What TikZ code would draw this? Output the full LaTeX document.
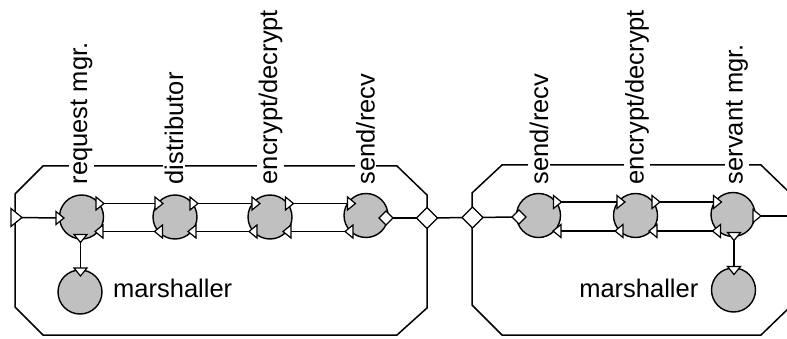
\documentclass[tikz,border=0pt]{standalone}
\usepackage{fontspec}
\setmainfont{Liberation Sans}
\usetikzlibrary{calc}
\definecolor{cgray}{RGB}{192,192,192}
\tikzset{
  wire/.style={line width=1.5pt},
  boxline/.style={line width=1.5pt, line join=miter},
  comp/.style={circle, draw, line width=1.4pt, fill=cgray, minimum size=44pt, inner sep=0pt},
  lbl/.style={rotate=90, anchor=west, fill=white, inner sep=1.5pt, font=\fontsize{25.5}{25.5}\selectfont},
  txt/.style={inner sep=0pt, font=\fontsize{25.5}{25.5}\selectfont},
  portst/.style={draw, fill=white, line width=1.2pt, line join=miter},
  triR/.pic={\draw[portst] (-4,-6.5) -- (4,0) -- (-4,6.5) -- cycle;},
  triL/.pic={\draw[portst] (4,-6.5) -- (-4,0) -- (4,6.5) -- cycle;},
  triD/.pic={\draw[portst] (-6.5,-4) -- (0,4) -- (6.5,-4) -- cycle;},
  bigtriR/.pic={\draw[portst] (-5.5,-9) -- (5.5,0) -- (-5.5,9) -- cycle;},
  dia/.pic={\draw[portst] (-7,0) -- (0,-7) -- (7,0) -- (0,7) -- cycle;},
  bigdia/.pic={\draw[portst] (-10.5,0) -- (0,-10.5) -- (10.5,0) -- (0,10.5) -- cycle;}
}
\begin{document}
\begin{tikzpicture}[x=1pt,y=-1pt]
\useasboundingbox (0,0) rectangle (787,339);
\clip (0,0) rectangle (787,339);

% ---------- outlines ----------
\draw[boxline] (43,166) -- (397,166) -- (427,195) -- (427,308) -- (397,335) -- (43,335) -- (15,307) -- (15,194) -- cycle;
\draw[boxline] (502,165) -- (761,165) -- (791,194) -- (791,306) -- (761,335) -- (502,335) -- (472,305) -- (472,193) -- cycle;

% ---------- left side: ports (coordinates) ----------
\coordinate (inL) at (16.5,217.5);
\coordinate (rmI) at (60,218);
\coordinate (rmOu) at (100,203.5);
\coordinate (diIu) at (159,203.5);
\coordinate (diOu) at (194,203.5);
\coordinate (edIu) at (256,203.5);
\coordinate (edOu) at (289.5,203.5);
\coordinate (srIu) at (351.5,203.5);
\coordinate (srOl) at (349,231.5);
\coordinate (edIl) at (287,231.5);
\coordinate (edOl) at (253,231.5);
\coordinate (diIl) at (192,231.5);
\coordinate (diOl) at (158.5,231.5);
\coordinate (rmIl) at (99,231.5);
\coordinate (rmD) at (80.5,238.5);
\coordinate (maT) at (80.5,272);
\coordinate (srD) at (386,218);
\coordinate (outL) at (427,218);

% ---------- right side: ports ----------
\coordinate (inR) at (472.5,217.5);
\coordinate (sr2D) at (519,217);
\coordinate (sr2Ou) at (557.5,202);
\coordinate (ed2Iu) at (621,202);
\coordinate (ed2Ou) at (656,202);
\coordinate (smIu) at (717.5,202);
\coordinate (smOl) at (716.5,231);
\coordinate (ed2Il) at (653,231);
\coordinate (ed2Ol) at (619,231);
\coordinate (sr2Il) at (557,231);
\coordinate (smR) at (757,216);
\coordinate (outR) at (791,216);
\coordinate (smD) at (734,236.5);
\coordinate (ma2T) at (734,270.5);

% ---------- wires ----------
\draw[wire] (inL) -- (rmI);
\draw[wire] (rmOu) -- (diIu);
\draw[wire] (diOu) -- (edIu);
\draw[wire] (edOu) -- (srIu);
\draw[wire] (srOl) -- (edIl);
\draw[wire] (edOl) -- (diIl);
\draw[wire] (diOl) -- (rmIl);
\draw[wire] (rmD) -- (maT);
\draw[wire] (srD) -- (outL);
\draw[wire] (outL) -- (inR);
\draw[wire] (inR) -- (sr2D);
\draw[wire] (sr2Ou) -- (ed2Iu);
\draw[wire] (ed2Ou) -- (smIu);
\draw[wire] (smOl) -- (ed2Il);
\draw[wire] (ed2Ol) -- (sr2Il);
\draw[wire] (smR) -- (outR);
\draw[wire] (smD) -- (ma2T);

% ---------- components ----------
\node[comp] (rm) at (81.5,217) {};
\node[comp] (di) at (175,217) {};
\node[comp] (ed) at (270,217) {};
\node[comp] (sr) at (366,215.5) {};
\node[comp] (ma) at (80,292) {};
\node[comp] (sr2) at (538.5,215.5) {};
\node[comp] (ed2) at (635.5,215.5) {};
\node[comp] (sm) at (733,214.5) {};
\node[comp] (ma2) at (733.5,290) {};

% ---------- port glyphs ----------
\pic at (inL) {bigtriR};
\pic at (rmI) {triR};
\pic at (rmOu) {triR};
\pic at (diIu) {triR};
\pic at (diOu) {triR};
\pic at (edIu) {triR};
\pic at (edOu) {triR};
\pic at (srIu) {triR};
\pic at (srOl) {triL};
\pic at (edIl) {triL};
\pic at (edOl) {triL};
\pic at (diIl) {triL};
\pic at (diOl) {triL};
\pic at (rmIl) {triL};
\pic at (rmD) {triD};
\pic at (maT) {triD};
\pic at (srD) {dia};
\pic at (outL) {bigdia};
\pic at (inR) {bigdia};
\pic at (sr2D) {dia};
\pic at (sr2Ou) {triR};
\pic at (ed2Iu) {triR};
\pic at (ed2Ou) {triR};
\pic at (smIu) {triR};
\pic at (smOl) {triL};
\pic at (ed2Il) {triL};
\pic at (ed2Ol) {triL};
\pic at (sr2Il) {triL};
\pic at (smR) {triR};
\pic at (smD) {triD};
\pic at (ma2T) {triD};

% ---------- labels ----------
\node[lbl] (lrm) at (81.5,186) {request mgr.};
\node[lbl] (ldi) at (174,186) {distributor};
\node[lbl] (led) at (270.5,186) {encrypt/decrypt};
\node[lbl] (lsr) at (365.5,186) {send/recv};
\node[lbl] (lsr2) at (539,186) {send/recv};
\node[lbl] (led2) at (637,186) {encrypt/decrypt};
\node[lbl] (lsm) at (737,186) {servant mgr.};
\node[txt, anchor=base west] (tma) at (113,297.5) {marshaller};
\node[txt, anchor=base east] (tma2) at (698.5,297) {marshaller};
\end{tikzpicture}
\end{document}
